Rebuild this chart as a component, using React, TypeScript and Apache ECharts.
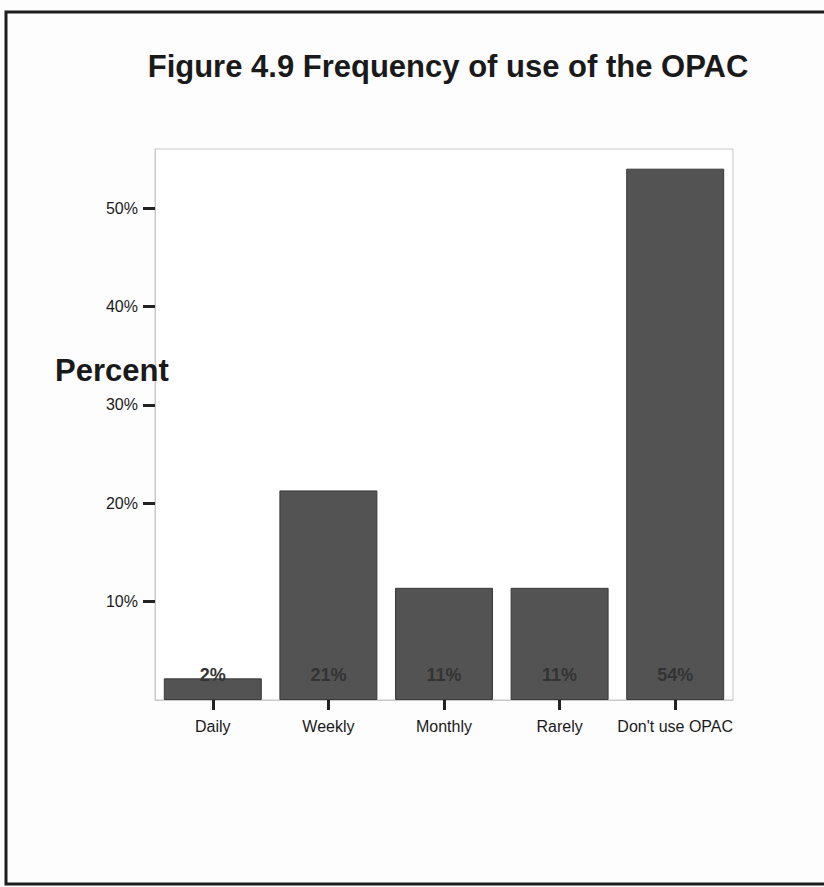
import React, { useEffect, useRef } from "react";
import * as echarts from "echarts";

const categories = ["Daily", "Weekly", "Monthly", "Rarely", "Don't use OPAC"];
const percentValues = [2.2, 21.3, 11.4, 11.4, 54.0];
const barLabels = ["2%", "21%", "11%", "11%", "54%"];
const titleText = "Figure 4.9 Frequency of use of the OPAC";
const yAxisTitle = "Percent";

export default function App() {
  const ref = useRef<HTMLDivElement>(null);
  useEffect(() => {
    document.body.style.margin = "0";
    const chart = echarts.init(ref.current!, null, { renderer: "svg" });
    const font = "'Liberation Sans', Arial, Helvetica, sans-serif";
    chart.setOption({
      animation: false,
      backgroundColor: "#fdfdfd",
      textStyle: { fontFamily: font },
      graphic: [
        {
          type: "rect",
          shape: { x: 6, y: 12, width: 900, height: 872 },
          style: { fill: "none", stroke: "#1e1e1e", lineWidth: 3 },
          silent: true,
        },
        {
          type: "text",
          x: 448,
          y: 66,
          style: {
            text: titleText,
            font: `bold 31px ${font}`,
            fill: "#1a1a1a",
            textAlign: "center",
            textVerticalAlign: "middle",
          },
          z: 10,
        },
        {
          type: "text",
          x: 55,
          y: 370,
          style: {
            text: yAxisTitle,
            font: `bold 31px ${font}`,
            fill: "#1a1a1a",
            textAlign: "left",
            textVerticalAlign: "middle",
          },
          z: 10,
        },
      ],
      grid: {
        left: 155,
        right: 91,
        top: 149,
        bottom: 187,
        show: true,
        borderColor: "#c9c9c9",
        borderWidth: 1,
        backgroundColor: "#ffffff",
      },
      xAxis: {
        type: "category",
        data: categories,
        axisLine: { show: true, lineStyle: { color: "#c9c9c9", width: 1 } },
        axisTick: {
          show: true,
          alignWithLabel: true,
          interval: 0,
          length: 10,
          lineStyle: { color: "#222", width: 3 },
        },
        axisLabel: {
          interval: 0,
          color: "#1a1a1a",
          fontSize: 16,
          margin: 18,
          fontFamily: font,
        },
      },
      yAxis: {
        type: "value",
        min: 0,
        max: 56,
        interval: 10,
        splitLine: { show: false },
        axisLine: { show: true, lineStyle: { color: "#c9c9c9", width: 1 } },
        axisTick: {
          show: true,
          length: 12,
          lineStyle: { color: "#222", width: 3 },
        },
        axisLabel: {
          color: "#1a1a1a",
          fontSize: 16,
          margin: 17,
          fontFamily: font,
          showMinLabel: false,
          showMaxLabel: false,
          formatter: (v: number) => (v === 0 ? "" : `${v}%`),
        },
      },
      series: [
        {
          type: "bar",
          data: percentValues,
          barWidth: 98,
          itemStyle: { color: "#535353", borderColor: "#3a3a3a", borderWidth: 1 },
          label: {
            show: true,
            position: "insideBottom",
            distance: 16,
            formatter: (p: any) => barLabels[p.dataIndex],
            color: "#333333",
            fontWeight: "bold",
            fontSize: 18,
            fontFamily: font,
          },
        },
      ],
    });
    return () => chart.dispose();
  }, []);
  return <div ref={ref} style={{ width: 824, height: 887 }} />;
}
